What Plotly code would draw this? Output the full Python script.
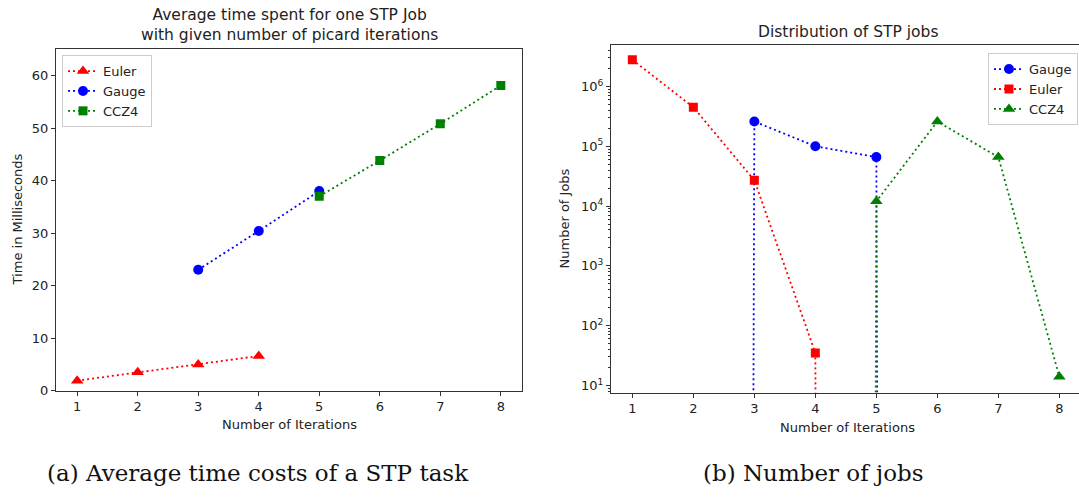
import plotly.graph_objects as go

# ---- data ----
iters = [1, 2, 3, 4, 5, 6, 7, 8]

# (a) average time per STP job [ms]
euler_x = [1, 2, 3, 4]
euler_time = [1.9, 3.5, 5.0, 6.6]
gauge_x = [3, 4, 5]
gauge_time = [23.0, 30.4, 38.0]
ccz4_x = [5, 6, 7, 8]
ccz4_time = [37.0, 43.8, 50.8, 58.1]

# (b) number of jobs (0 = no job)
gauge_jobs = [0, 0, 260000, 100000, 66000, 0, 0, 0]
euler_jobs = [2800000, 450000, 27000, 35, 0, 0, 0, 0]
ccz4_jobs = [0, 0, 0, 0, 12000, 260000, 66000, 14]

xticks = [1, 2, 3, 4, 5, 6, 7, 8]
ytick_left = [0, 10, 20, 30, 40, 50, 60]
ytick_right = [1e1, 1e2, 1e3, 1e4, 1e5, 1e6]
ytick_right_text = ["10<sup>1</sup>", "10<sup>2</sup>", "10<sup>3</sup>",
                    "10<sup>4</sup>", "10<sup>5</sup>", "10<sup>6</sup>"]

RED, BLUE, GREEN = "#ff0000", "#0000ff", "#008000"
FONT = "DejaVu Sans"
TXT = "#222222"
FS = 13        # labels / ticks / legend
FS_T = 15.5    # titles
LOG_FLOOR = 1e-300  # like matplotlib clipping non-positive values on log axes


def clip_log(vals):
    return [v if v > 0 else LOG_FLOOR for v in vals]


dotline = lambda c: dict(color=c, width=1.8, dash="2px,3px")

fig = go.Figure()

# left panel
fig.add_trace(go.Scatter(x=euler_x, y=euler_time, name="Euler", mode="lines+markers",
                         line=dotline(RED), marker=dict(symbol="triangle-up", size=11, color=RED),
                         xaxis="x", yaxis="y", legend="legend"))
fig.add_trace(go.Scatter(x=gauge_x, y=gauge_time, name="Gauge", mode="lines+markers",
                         line=dotline(BLUE), marker=dict(symbol="circle", size=10, color=BLUE),
                         xaxis="x", yaxis="y", legend="legend"))
fig.add_trace(go.Scatter(x=ccz4_x, y=ccz4_time, name="CCZ4", mode="lines+markers",
                         line=dotline(GREEN), marker=dict(symbol="square", size=9, color=GREEN),
                         xaxis="x", yaxis="y", legend="legend"))

# right panel
fig.add_trace(go.Scatter(x=iters, y=clip_log(gauge_jobs), name="Gauge", mode="lines+markers",
                         line=dotline(BLUE), marker=dict(symbol="circle", size=10, color=BLUE),
                         xaxis="x2", yaxis="y2", legend="legend2"))
fig.add_trace(go.Scatter(x=iters, y=clip_log(euler_jobs), name="Euler", mode="lines+markers",
                         line=dotline(RED), marker=dict(symbol="square", size=9, color=RED),
                         xaxis="x2", yaxis="y2", legend="legend2"))
fig.add_trace(go.Scatter(x=iters, y=clip_log(ccz4_jobs), name="CCZ4", mode="lines+markers",
                         line=dotline(GREEN), marker=dict(symbol="triangle-up", size=11, color=GREEN),
                         xaxis="x2", yaxis="y2", legend="legend2"))

W, H = 1079, 500
px = lambda v: v / W
py = lambda v: 1 - v / H

axcommon = dict(showgrid=False, zeroline=False, showline=True, linecolor="#333333", linewidth=1,
                ticks="outside", ticklen=4, tickcolor="#333333",
                tickfont=dict(family=FONT, size=FS, color=TXT))

fig.update_layout(
    width=W, height=H, margin=dict(l=0, r=0, t=0, b=0),
    paper_bgcolor="white", plot_bgcolor="white",
    showlegend=True,
    xaxis=dict(domain=[px(56), px(522)], range=[0.65, 8.35], tickvals=xticks,
               mirror=True, anchor="y", **axcommon),
    yaxis=dict(domain=[py(397), py(50)], range=[0, 65], tickvals=ytick_left,
               mirror=True, anchor="x", **axcommon),
    xaxis2=dict(domain=[px(611), 1.0], range=[0.65, 0.65 + 468 / 61.0], tickvals=xticks,
                mirror=True, anchor="y2", **axcommon),
    yaxis2=dict(domain=[py(399), py(46)], type="log", range=[0.88, 6.69],
                tickvals=ytick_right, ticktext=ytick_right_text, mirror=False, anchor="x2",
                minor=dict(ticks="outside", ticklen=2, dtick="D1", tickcolor="#333333"),
                **axcommon),
    legend=dict(x=px(62), y=py(56), xanchor="left", yanchor="top",
                bgcolor="white", bordercolor="#cccccc", borderwidth=1,
                font=dict(family=FONT, size=FS, color=TXT), tracegroupgap=0,
                itemwidth=30),
    legend2=dict(x=px(1078), y=py(54), xanchor="right", yanchor="top",
                 bgcolor="white", bordercolor="#cccccc", borderwidth=1,
                 font=dict(family=FONT, size=FS, color=TXT), tracegroupgap=0,
                 itemwidth=30),
)

ann = []
ann.append(dict(text="Average time spent for one STP Job<br>with given number of picard iterations",
                x=px(289), y=py(25), xref="paper", yref="paper", showarrow=False,
                font=dict(family=FONT, size=FS_T, color=TXT), xanchor="center", yanchor="middle"))
ann.append(dict(text="Distribution of STP jobs", x=px(848), y=py(33), xref="paper", yref="paper",
                showarrow=False, font=dict(family=FONT, size=FS_T, color=TXT),
                xanchor="center", yanchor="middle"))
ann.append(dict(text="Time in Milliseconds", x=px(17), y=py(223), xref="paper", yref="paper",
                showarrow=False, textangle=-90, font=dict(family=FONT, size=FS, color=TXT),
                xanchor="center", yanchor="middle"))
ann.append(dict(text="Number of Jobs", x=px(564), y=py(222), xref="paper", yref="paper",
                showarrow=False, textangle=-90, font=dict(family=FONT, size=FS, color=TXT),
                xanchor="center", yanchor="middle"))
ann.append(dict(text="Number of Iterations", x=px(289), y=py(431), xref="paper", yref="paper",
                showarrow=False, font=dict(family=FONT, size=FS, color=TXT),
                xanchor="center", yanchor="middle"))
ann.append(dict(text="Number of Iterations", x=px(847), y=py(434), xref="paper", yref="paper",
                showarrow=False, font=dict(family=FONT, size=FS, color=TXT),
                xanchor="center", yanchor="middle"))
ann.append(dict(text="(a) Average time costs of a STP task", x=px(258), y=py(481), xref="paper",
                yref="paper", showarrow=False, font=dict(family="DejaVu Serif", size=23, color="#111111"),
                xanchor="center", yanchor="middle"))
ann.append(dict(text="(b) Number of jobs", x=px(813), y=py(481), xref="paper",
                yref="paper", showarrow=False, font=dict(family="DejaVu Serif", size=23, color="#111111"),
                xanchor="center", yanchor="middle"))
fig.update_layout(annotations=ann)

fig.write_html("out.html")
